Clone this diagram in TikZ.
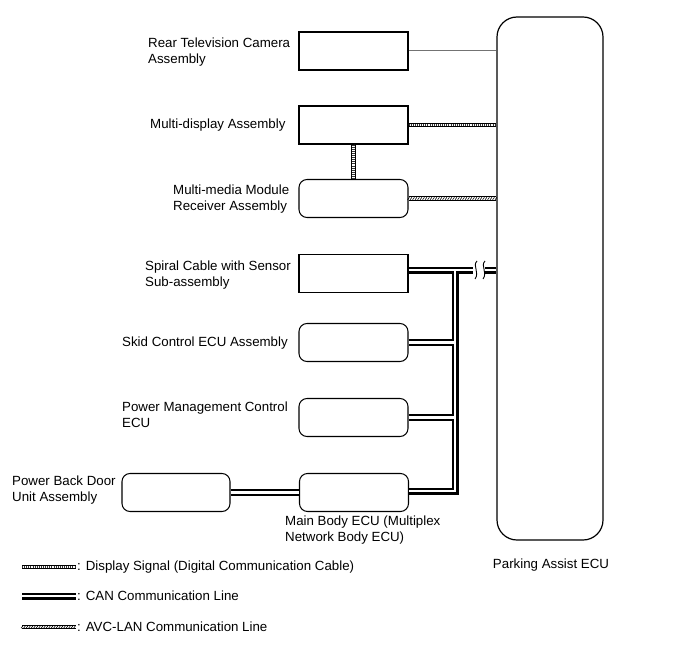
\documentclass[tikz,border=0pt]{standalone}
\usepackage{fontspec}
\setmainfont{Liberation Sans}
\usetikzlibrary{decorations.markings}
\begin{document}
\begin{tikzpicture}[x=1bp,y=-1bp,
  every node/.style={font=\fontsize{13.3bp}{16bp}\selectfont},
  sqbox/.style={draw, line width=1.05bp, minimum width=109bp, minimum height=38bp, inner sep=0pt},
  rbox/.style={sqbox, rounded corners=8bp},
  lbl/.style={anchor=west, align=left, inner sep=0pt},
  thinline/.style={draw=black!55, line width=1bp},
  dispsig/.style={draw=black, line width=4.6bp,
     postaction={draw=white, line width=2.6bp},
     postaction={draw=black!80, line width=2.6bp, dash pattern=on 0.8bp off 1.3bp}},
  avc/.style={draw=black, line width=4.6bp,
     postaction={draw=white, line width=2.6bp},
     postaction={decorate, decoration={markings,
        mark=between positions 0 and 1 step 2.5bp with {\draw[black, line width=0.6bp] (-0.9bp,-1.2bp) -- (0.9bp,1.2bp);}}}},
  can/.style={draw=black, line width=2.3bp, double=white, double distance=2.4bp},
]
\useasboundingbox (0,0) rectangle (690,660);

% Parking Assist ECU
\node[draw, line width=1.2bp, rounded corners=20bp, minimum width=106bp, minimum height=523bp, inner sep=0pt] (pa) at (550,278.5) {};
\node (palbl) at (551,565) {Parking Assist ECU};

% boxes
\node[sqbox] (cam) at (353.5,51) {};
\node[sqbox] (md) at (353.5,125) {};
\node[rbox] (mm) at (353.5,198.5) {};
\node[sqbox] (sp) at (353.5,273.5) {};
\node[rbox] (skid) at (353.5,342.5) {};
\node[rbox] (pm) at (353.5,417.5) {};
\node[rbox, minimum width=108bp] (pbd) at (176,492.5) {};
\node[rbox] (mb) at (354,492.5) {};

% labels
\node[lbl] (camlbl) at (148,52) {Rear Television Camera\\Assembly};
\node[lbl] (mdlbl) at (150,125) {Multi-display Assembly};
\node[lbl] (mmlbl) at (173,199) {Multi-media Module\\Receiver Assembly};
\node[lbl] (splbl) at (145,275) {Spiral Cable with Sensor\\Sub-assembly};
\node[lbl] (skidlbl) at (122,343) {Skid Control ECU Assembly};
\node[lbl] (pmlbl) at (122,415) {Power Management Control\\ECU};
\node[lbl] (pbdlbl) at (12,490) {Power Back Door\\Unit Assembly};
\node[lbl] (mblbl) at (285,530) {Main Body ECU (Multiplex\\Network Body ECU)};

% connectors
\draw[thinline] (cam.east) -- (cam.east -| pa.west);
\draw[dispsig] (md.east) -- (md.east -| pa.west);
\draw[dispsig] (md.south) -- (mm.north);
\draw[avc] (mm.east) -- (mm.east -| pa.west);

% CAN bus
\coordinate (brkL) at (473,270);
\coordinate (brkR) at (485,270);
\coordinate (jtop) at (455,270);
\coordinate (jbot) at (455,491);
\coordinate (spx) at (408.5,270);
\draw[can] (spx) -- (brkL)
           (brkR) -- (brkR -| pa.west)
           (jtop) -- (jbot) -- (jbot -| mb.east)
           (skid.east) -- (skid.east -| jtop)
           (pm.east) -- (pm.east -| jtop);
\draw[line width=0.9bp] (477,261) .. controls (472,266) and (480,272) .. (475,279);
\draw[line width=0.9bp] (485,261) .. controls (480,266) and (488,272) .. (483,279);
\draw[can] (pbd.east) -- (mb.west);

% legend
\coordinate (l1a) at (22,567); \coordinate (l1b) at (76,567);
\coordinate (l2a) at (22,596); \coordinate (l2b) at (76,596);
\coordinate (l3a) at (22,627); \coordinate (l3b) at (76,627);
\draw[dispsig] (l1a) -- (l1b);
\draw[can] (l2a) -- (l2b);
\draw[avc] (l3a) -- (l3b);
\node[lbl] (lg1) at (77,567) {: Display Signal (Digital Communication Cable)};
\node[lbl] (lg2) at (77,596) {: CAN Communication Line};
\node[lbl] (lg3) at (77,627) {: AVC-LAN Communication Line};
\end{tikzpicture}
\end{document}
